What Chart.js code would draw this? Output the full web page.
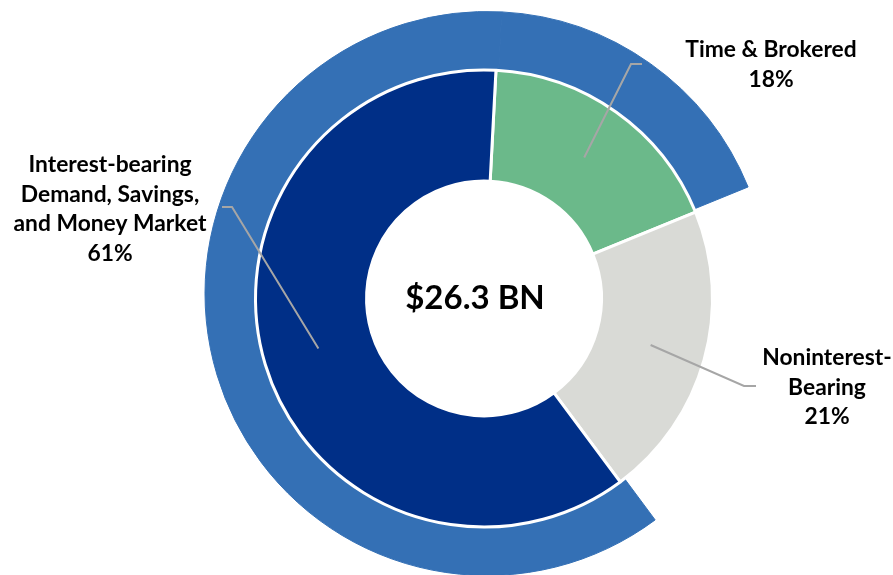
<!DOCTYPE html>
<html>
<head>
<meta charset="utf-8">
<script src="https://cdn.jsdelivr.net/npm/chart.js@4.4.1/dist/chart.umd.min.js"></script>
<style>
  html, body { margin: 0; padding: 0; background: #ffffff; overflow: hidden; }
  #wrap { position: relative; width: 893px; height: 575px; }
  #wrap canvas { position: absolute; left: 0; top: 0; }
</style>
</head>
<body>
<div id="wrap">
  <canvas id="outer" width="893" height="575"></canvas>
  <canvas id="inner" width="893" height="575"></canvas>
</div>
<script>
// ---- data ----
const categories = ['Time & Brokered', 'Noninterest-Bearing', 'Interest-bearing Demand, Savings, and Money Market'];
const shares = [18, 21, 61];
const labelLines = [
  ['Time & Brokered'],
  ['Noninterest-', 'Bearing'],
  ['Interest-bearing', 'Demand, Savings,', 'and Money Market']
];
// outer ring highlights the interest-bearing deposits (time & brokered + interest-bearing)
const outerRingMember = [true, false, true];
const totalLabel = '$26.3 BN';

// ---- styles ----
const innerColors = ['#6BB98A', '#D9DAD6', '#002F87'];
const outerBlue = '#3470B5';
const startAngle = 3;
const fontFamily = 'Lato, "Open Sans", sans-serif';

// callout layout: offsets from the inner chart centre
const callouts = [
  { elbow: [147, -234.5], end: [158, -234.5], textX: 287, textY: [-248.5, -218.5] },
  { elbow: [260, 87.5], end: [272, 87.5], textX: 343, textY: [59.5, 89.5, 118.5] },
  { elbow: [-252, -91.5], end: [-262, -91.5], textX: -374, textY: [-133.5, -104, -74.5, -45] }
];

const outerChart = new Chart(document.getElementById('outer'), {
  type: 'doughnut',
  data: {
    labels: categories,
    datasets: [{
      data: shares,
      backgroundColor: outerRingMember.map(m => m ? outerBlue : 'rgba(0,0,0,0)'),
      borderColor: outerRingMember.map(m => m ? outerBlue : 'rgba(0,0,0,0)'),
      borderWidth: 1,
      rotation: startAngle,
      clip: false
    }]
  },
  options: {
    responsive: false,
    animation: false,
    events: [],
    radius: 282,
    cutout: '76%',
    layout: { padding: { left: 81, right: 0, top: 12, bottom: 0 } },
    plugins: { legend: { display: false }, tooltip: { enabled: false } }
  }
});

const calloutPlugin = {
  id: 'callouts',
  afterDraw(chart) {
    const ctx = chart.ctx;
    const meta = chart.getDatasetMeta(0);
    const area = chart.chartArea;
    const cx = (area.left + area.right) / 2;
    const cy = (area.top + area.bottom) / 2;
    ctx.save();
    // leader lines
    ctx.strokeStyle = '#A6A6A6';
    ctx.lineWidth = 2;
    meta.data.forEach((arc, i) => {
      const p = arc.getCenterPoint();
      const c = callouts[i];
      ctx.beginPath();
      ctx.moveTo(p.x, p.y);
      ctx.lineTo(cx + c.elbow[0], cy + c.elbow[1]);
      ctx.lineTo(cx + c.end[0], cy + c.end[1]);
      ctx.stroke();
    });
    // labels
    ctx.fillStyle = '#000000';
    ctx.textAlign = 'center';
    ctx.textBaseline = 'middle';
    ctx.font = 'bold 22.8px ' + fontFamily;
    meta.data.forEach((arc, i) => {
      const c = callouts[i];
      const lines = labelLines[i].concat([shares[i] + '%']);
      lines.forEach((t, j) => ctx.fillText(t, cx + c.textX, cy + c.textY[j]));
    });
    // centre total
    ctx.font = 'bold 33px ' + fontFamily;
    ctx.fillText(totalLabel, cx - 9, cy);
    ctx.restore();
  }
};

const innerChart = new Chart(document.getElementById('inner'), {
  type: 'doughnut',
  data: {
    labels: categories,
    datasets: [{
      data: shares,
      backgroundColor: innerColors,
      borderColor: '#ffffff',
      borderWidth: 3,
      rotation: startAngle,
      clip: false
    }]
  },
  options: {
    responsive: false,
    animation: false,
    events: [],
    radius: 228.5,
    cutout: '51.4%',
    layout: { padding: { left: 75, right: 0, top: 22, bottom: 0 } },
    plugins: { legend: { display: false }, tooltip: { enabled: false } }
  },
  plugins: [calloutPlugin]
});
</script>
</body>
</html>
